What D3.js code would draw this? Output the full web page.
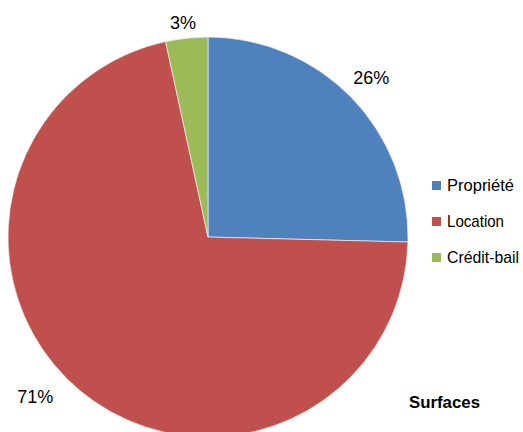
<!DOCTYPE html>
<html>
<head>
<meta charset="utf-8">
<script src="https://d3js.org/d3.v7.min.js"></script>
<style>
  body { margin: 0; background: white; }
  text { font-family: "Liberation Sans", Arial, sans-serif; fill: #000; }
</style>
</head>
<body>
<div id="chart"></div>
<script>
var categories = ['Propriété', 'Location', 'Crédit-bail'];
var values = [25.4, 71.2, 3.4];
var labels = ['26%', '71%', '3%'];
var colors = ['#4F81BD', '#C0504D', '#9BBB59'];

var width = 523;
var height = 432;
var cx = 208;
var cy = 237;
var radius = 200;

var svg = d3.select('#chart').append('svg')
    .attr('width', width)
    .attr('height', height);

var data = categories.map((c, i) => ({ name: c, value: values[i], label: labels[i], color: colors[i] }));

var pie = d3.pie().value(d => d.value).sort(null);
var arc = d3.arc().innerRadius(0).outerRadius(radius);

var g = svg.append('g').attr('transform', `translate(${cx},${cy})`);
var arcs = pie(data);

g.selectAll('path')
    .data(arcs)
    .enter()
    .append('path')
    .attr('d', arc)
    .attr('fill', d => d.data.color)
    .attr('stroke', 'white')
    .attr('stroke-width', 0.6);

// label distance from centre and small nudges
var labelRadius = [228, 235, 216];
var labelOffsets = [[0, 0], [-23, -22], [-2, 0]];

g.selectAll('.pLabel')
    .data(arcs)
    .enter()
    .append('text')
    .attr('class', 'pLabel')
    .attr('text-anchor', 'middle')
    .attr('font-size', 18)
    .attr('x', (d, i) => {
        var a = (d.startAngle + d.endAngle) / 2;
        return Math.sin(a) * labelRadius[i] + labelOffsets[i][0];
    })
    .attr('y', (d, i) => {
        var a = (d.startAngle + d.endAngle) / 2;
        return -Math.cos(a) * labelRadius[i] + labelOffsets[i][1] + 6.5;
    })
    .text(d => d.data.label);

var legend = svg.append('g').attr('transform', 'translate(432,181)');
var item = legend.selectAll('g')
    .data(data)
    .enter()
    .append('g')
    .attr('transform', (d, i) => `translate(0,${i * 36})`);

item.append('rect')
    .attr('width', 9)
    .attr('height', 9)
    .attr('fill', d => d.color);

item.append('text')
    .attr('x', 15)
    .attr('y', 10)
    .attr('font-size', 17)
    .attr('textLength', (d, i) => [67, 57, 72][i])
    .attr('lengthAdjust', 'spacingAndGlyphs')
    .text(d => d.name);

svg.append('text')
    .attr('x', 409)
    .attr('y', 408)
    .attr('font-size', 17)
    .attr('font-weight', 'bold')
    .attr('textLength', 71)
    .attr('lengthAdjust', 'spacingAndGlyphs')
    .text('Surfaces');
</script>
</body>
</html>
